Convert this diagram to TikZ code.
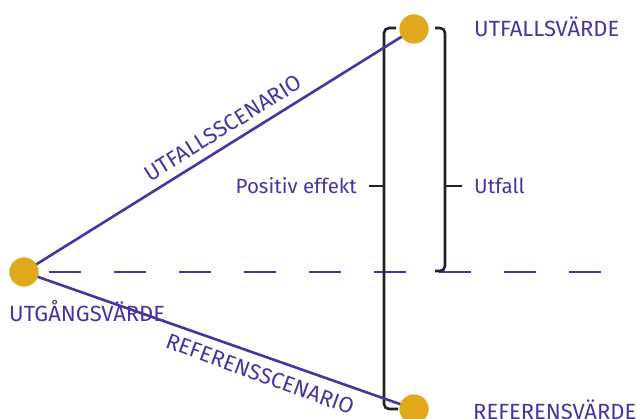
\documentclass[tikz,border=0pt]{standalone}
\usepackage{fontspec}
\setmainfont{Fira Sans}
\definecolor{lila}{HTML}{4A32A0}
\definecolor{guld}{HTML}{E0AA1C}
\definecolor{mork}{HTML}{222222}
\begin{document}
\begin{tikzpicture}[x=1pt,y=-1pt,
  dot/.style={circle,fill=guld,inner sep=0pt,minimum size=29pt},
  scen/.style={draw=lila,line width=2.6pt},
  brace/.style={draw=mork,line width=2.6pt,rounded corners=5pt},
  lbl/.style={text=lila,font=\fontsize{22}{24}\selectfont,inner sep=0pt},
  sm/.style={text=lila,font=\fontsize{20.5}{22}\selectfont,inner sep=0pt},
  guide/.style={draw=lila,line width=2.6pt,dash pattern=on 32pt off 33pt}]
\useasboundingbox (0,0) rectangle (637,419);

% reference line
\coordinate (d0) at (49,272);
\coordinate (d1) at (606,272);
\draw[guide] (d0) -- (d1);

% brackets
\coordinate (lb1) at (396,28);
\coordinate (lb2) at (398,409);
\coordinate (lt) at (369,186);
\coordinate (lm) at (384,186);
\draw[brace] (lb1) -- (384,28) -- (384,409) -- (lb2);
\draw[draw=mork,line width=2.6pt] (lt) -- (lm);
\coordinate (rb1) at (435,28);
\coordinate (rb2) at (435,271);
\coordinate (rt) at (462,186);
\coordinate (rm) at (445,186);
\draw[brace] (rb1) -- (445,28) -- (445,271) -- (rb2);
\draw[draw=mork,line width=2.6pt] (rt) -- (rm);

% scenario lines and points
\node[dot] (start) at (24,272) {};
\node[dot] (utf) at (414,29) {};
\node[dot] (ref) at (414,409) {};
\draw[scen] (start.center) -- (utf.center);
\draw[scen] (start.center) -- (ref.center);
\node[dot] at (24,272) {};
\node[dot] at (414,29) {};
\node[dot] at (414,409) {};

% labels
\node[lbl,anchor=west] (lutf) at (474,27) {UTFALLSVÄRDE};
\node[lbl,anchor=west] (lref) at (473,410) {REFERENSVÄRDE};
\node[lbl,anchor=west] (lstart) at (9,311) {UTGÅNGSVÄRDE};
\node[sm,anchor=east] (lpos) at (357,186) {Positiv effekt};
\node[sm,anchor=west] (lfall) at (474,186) {Utfall};
\node[lbl,rotate=31.9] (sutf) at (223,128) {UTFALLSSCENARIO};
\node[lbl,rotate=-20] (sref) at (260,374) {REFERENSSCENARIO};
\end{tikzpicture}
\end{document}
